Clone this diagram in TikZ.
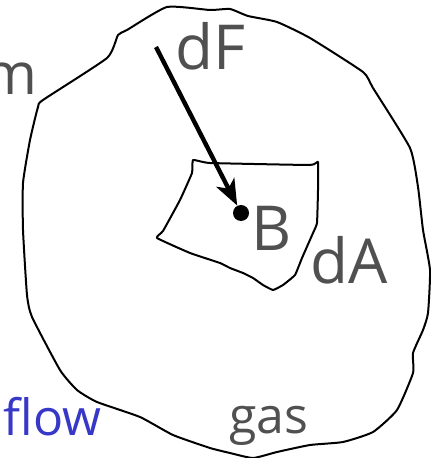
\documentclass[tikz,border=0pt]{standalone}
\usepackage{fontspec}
\newfontfamily\labelfont{Open Sans}
\usetikzlibrary{arrows.meta}
\definecolor{labelgray}{HTML}{505050}
\definecolor{flowblue}{HTML}{3737C8}

\begin{document}
\begin{tikzpicture}[x=0.5pt,y=-0.5pt,
    outline/.style={line width=1pt,line join=round},
    lbl/.style={inner sep=0pt,text=labelgray,font=\labelfont\fontsize{31}{31}\selectfont},
    force/.style={line width=2.2pt,-{Stealth[length=13pt,width=10pt,inset=3.5pt]}}]
    \useasboundingbox (0,0) rectangle (431,458);
    % gas region
    \draw[outline] plot[smooth cycle,tension=0.3] coordinates {
      (167,7) (210,10) (230,9) (248,16) (277,22) (310,38) (363,72) (373,88)
      (410,148) (418,187) (423,230) (430,270) (428,313) (423,330) (413,353)
      (413,373) (397,410) (373,432) (343,442) (310,445) (277,452) (253,458)
      (230,453) (210,448) (173,435) (140,417) (97,402) (77,390) (60,370)
      (32,317) (27,295) (23,230) (23,183) (30,140) (38,107) (43,100)
      (107,58) (118,35) (127,30)};
    % surface element
    \draw[outline] plot[smooth cycle,tension=0.2] coordinates {
      (193,160) (210,163) (310,165) (318,162) (318,190) (317,223) (313,233)
      (302,258) (295,275) (283,285) (273,290) (263,285) (253,278) (243,273)
      (230,268) (220,263) (190,253) (157,238) (163,231) (180,200) (192,173)};
    \node[circle,fill,inner sep=0pt,minimum size=8pt] (pt) at (241,213) {};
    \coordinate (tail) at (156,47);
    \draw[force] (tail) -- (pt);
    \node[lbl,anchor=base west] (dF) at (175,70) {dF};
    \node[lbl,anchor=base west] (B) at (251,250) {B};
    \node[lbl,anchor=base west] (dA) at (310,283) {dA};
    \node[lbl,anchor=base east,font=\labelfont\fontsize{29}{29}\selectfont] (m) at (38,95) {m};
    \node[lbl,anchor=base west,font=\labelfont\fontsize{25}{25}\selectfont] (gas) at (229,433) {gas};
    \node[lbl,anchor=base east,text=flowblue,font=\labelfont\fontsize{25}{25}\selectfont] (flow) at (102,435) {flow};
\end{tikzpicture}
\end{document}
